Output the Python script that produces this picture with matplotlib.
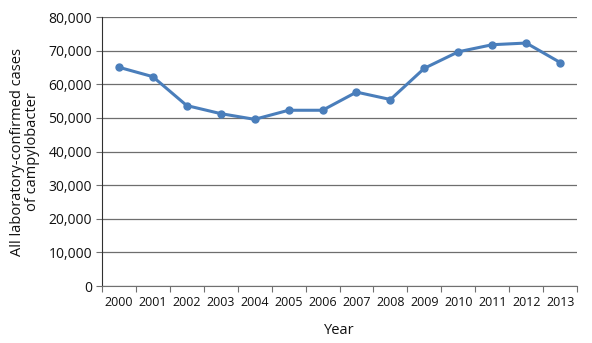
import numpy as np
import matplotlib.pyplot as plt
from matplotlib.ticker import FuncFormatter

plt.rcParams['font.family'] = ['Open Sans', 'DejaVu Sans']
plt.rcParams['text.color'] = '#111111'
plt.rcParams['axes.labelcolor'] = '#111111'
plt.rcParams['xtick.labelcolor'] = '#111111'
plt.rcParams['ytick.labelcolor'] = '#111111'

years = ['2000', '2001', '2002', '2003', '2004', '2005', '2006',
         '2007', '2008', '2009', '2010', '2011', '2012', '2013']
cases = [65100, 62300, 53700, 51300, 49600, 52300, 52300,
         57700, 55500, 64800, 69700, 71800, 72300, 66500]
yticks = [0, 10000, 20000, 30000, 40000, 50000, 60000, 70000, 80000]

fig = plt.figure(figsize=(5.92, 3.43), dpi=100)
ax = fig.add_axes([0.172, 0.166, 0.803, 0.784])

x = np.arange(len(years))
ax.plot(x, cases, color='#4a7ebb', lw=2.2, marker='o', ms=5, zorder=3)

ax.set_xlim(-0.5, len(years) - 0.5)
ax.set_ylim(0, 80000)
ax.set_yticks(yticks)
ax.yaxis.set_major_formatter(FuncFormatter(lambda v, p: f'{int(v):,}'))
ax.grid(axis='y', color='#6e6e6e', lw=0.9)
ax.set_axisbelow(True)

# category axis: tick marks at boundaries, labels in between
ax.set_xticks(np.arange(-0.5, len(years), 1.0))
ax.set_xticklabels([])
ax.set_xticks(x, minor=True)
ax.set_xticklabels(years, minor=True)
ax.tick_params(axis='x', which='minor', length=0, pad=7, labelsize=9)
ax.tick_params(axis='x', which='major', length=4, color='#707070')
ax.tick_params(axis='y', length=4, color='#707070', labelsize=10, pad=3)

for s in ['top', 'right']:
    ax.spines[s].set_visible(False)
ax.spines['left'].set_color('#303030')
ax.spines['bottom'].set_color('#707070')

ax.set_xlabel('Year', fontsize=10.5, labelpad=10)
ax.set_ylabel('All laboratory-confirmed cases\nof campylobacter', fontsize=10.5,
              labelpad=6, linespacing=1.0)

fig.savefig('out.png', dpi=100)
